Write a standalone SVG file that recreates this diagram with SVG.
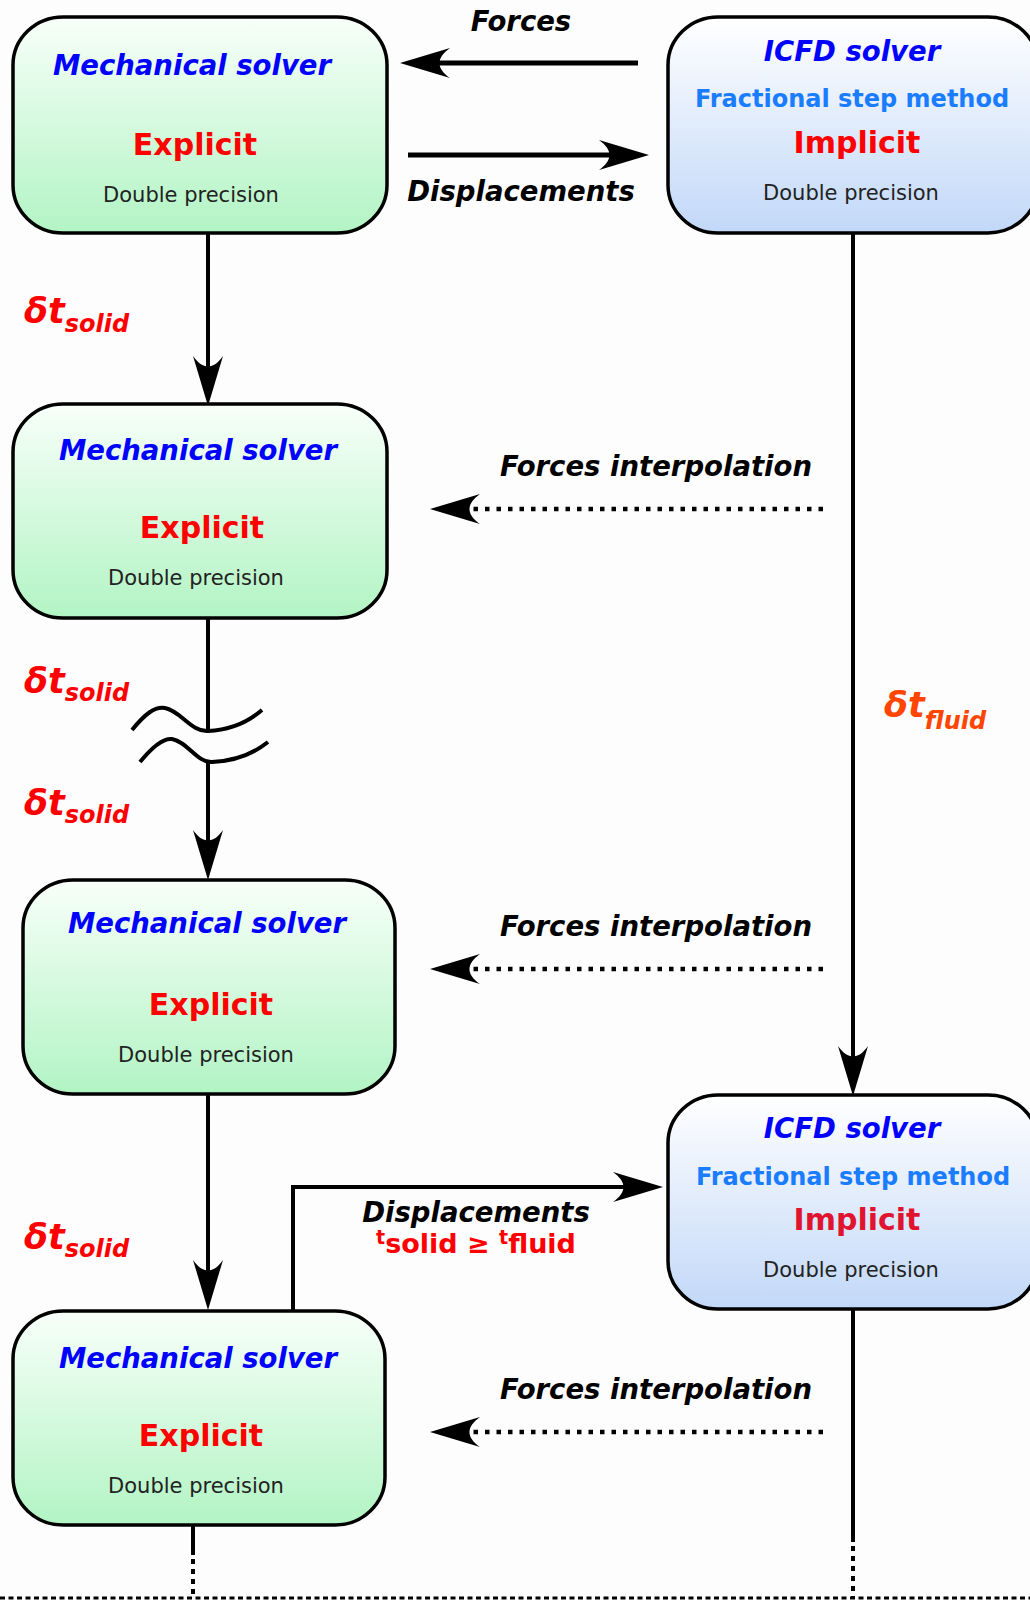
<svg xmlns="http://www.w3.org/2000/svg" width="1030" height="1600" viewBox="0 0 1030 1600">
<defs>
<linearGradient id="gGreen" x1="0" y1="0" x2="0" y2="1">
<stop offset="0" stop-color="#f8fff9"/>
<stop offset="1" stop-color="#b2f4c4"/>
</linearGradient>
<linearGradient id="gBlue" x1="0" y1="0" x2="0" y2="1">
<stop offset="0" stop-color="#ffffff"/>
<stop offset="1" stop-color="#c2d8f8"/>
</linearGradient>
<marker id="ah" markerUnits="userSpaceOnUse" markerWidth="80" markerHeight="40" refX="0" refY="0" orient="auto" overflow="visible">
<path d="M20,0 L-30,-15 C-16,-5 -16,5 -30,15 Z" fill="#000"/>
</marker>
</defs>
<style>
.box{stroke:#000;stroke-width:3.5}
.mech{fill:url(#gGreen)}
.icfd{fill:url(#gBlue)}
.t1{font-family:"DejaVu Sans",sans-serif;font-weight:bold;font-style:italic;font-size:27.5px;text-anchor:middle}
.blue{fill:#0000ff}
.lblue{font-family:"DejaVu Sans",sans-serif;font-weight:bold;font-size:24px;fill:#1a7cff;text-anchor:middle}
.big{font-family:"DejaVu Sans",sans-serif;font-weight:bold;font-size:30px;text-anchor:middle}
.dp{font-family:"DejaVu Sans",sans-serif;font-size:21px;fill:#222;text-anchor:middle}
.lbl{font-family:"DejaVu Sans",sans-serif;font-weight:bold;font-style:italic;font-size:27.5px;fill:#000;text-anchor:middle}
.dt{font-family:"DejaVu Sans",sans-serif;font-weight:bold;font-style:italic;font-size:35px;fill:#ff0000}
.sub{font-size:24px}
.ln{stroke:#000;stroke-width:4;fill:none}
.thick{stroke-width:5}
.dot{stroke:#000;stroke-width:4.5;fill:none;stroke-dasharray:4.5,7}
.fdot{stroke:#000;stroke-width:4;fill:none;stroke-dasharray:5,5}
.hdot{stroke:#000;stroke-width:3;fill:none;stroke-dasharray:5,3.5}
</style>
<rect x="0" y="0" width="1030" height="1600" fill="#fdfdfd"/>

<g id="connectors">
<line class="ln thick" x1="638" y1="63" x2="420" y2="63" marker-end="url(#ah)"/>
<line class="ln thick" x1="408" y1="155" x2="629" y2="155" marker-end="url(#ah)"/>
<line class="ln" x1="208" y1="233" x2="208" y2="386" marker-end="url(#ah)"/>
<line class="ln" x1="208" y1="618" x2="208" y2="731"/>
<path class="ln" d="M132,730 C145,714 155,706 165,708 C181,711 191,732 208,731 C230,730 248,722 262,710"/>
<path class="ln" d="M140,762 C153,746 163,738 172,739 C188,742 197,763 212,762 C234,761 253,754 268,742"/>
<line class="ln" x1="208" y1="762" x2="208" y2="860" marker-end="url(#ah)"/>
<line class="ln" x1="208" y1="1094" x2="208" y2="1290" marker-end="url(#ah)"/>
<polyline class="ln" points="293,1311 293,1187 643,1187" marker-end="url(#ah)"/>
<line class="ln" x1="853" y1="233" x2="853" y2="1076" marker-end="url(#ah)"/>
<line class="ln" x1="853" y1="1309" x2="853" y2="1542"/>
<line class="fdot" x1="853" y1="1546" x2="853" y2="1597"/>
<line class="ln" x1="193" y1="1525" x2="193" y2="1555"/>
<line class="fdot" x1="193" y1="1559" x2="193" y2="1597"/>
<line class="hdot" x1="0" y1="1598" x2="1030" y2="1598"/>
<line class="dot" x1="823" y1="509" x2="450" y2="509" marker-end="url(#ah)"/>
<line class="dot" x1="823" y1="969" x2="450" y2="969" marker-end="url(#ah)"/>
<line class="dot" x1="823" y1="1432" x2="450" y2="1432" marker-end="url(#ah)"/>
</g>

<g id="labels">
<text class="lbl" x="521" y="31">Forces</text>
<text class="lbl" x="521" y="201">Displacements</text>
<text class="lbl" x="656" y="476">Forces interpolation</text>
<text class="lbl" x="656" y="936">Forces interpolation</text>
<text class="lbl" x="656" y="1399">Forces interpolation</text>
<text class="lbl" x="476" y="1222">Displacements</text>
<text x="476" y="1253" font-family="DejaVu Sans, sans-serif" font-weight="bold" font-size="27px" fill="#ff0000" text-anchor="middle"><tspan font-size="19px" dy="-9">t</tspan><tspan dy="9">solid ≥ </tspan><tspan font-size="19px" dy="-9">t</tspan><tspan dy="9">fluid</tspan></text>
<text class="dt" x="24" y="323">δt<tspan class="sub" dy="9">solid</tspan></text>
<text class="dt" x="24" y="693">δt<tspan class="sub" dy="8">solid</tspan></text>
<text class="dt" x="24" y="815">δt<tspan class="sub" dy="8">solid</tspan></text>
<text class="dt" x="24" y="1249">δt<tspan class="sub" dy="8">solid</tspan></text>
<text class="dt" x="884" y="717" style="fill:#ff4500">δt<tspan class="sub" dy="12">fluid</tspan></text>
</g>

<g id="mech1">
<rect class="box mech" x="13" y="17" width="374" height="216" rx="50" ry="48"/>
<text class="t1 blue" x="192" y="75">Mechanical solver</text>
<text class="big" x="195" y="155" fill="#ff0000">Explicit</text>
<text class="dp" x="191" y="202">Double precision</text>
</g>
<g id="mech2">
<rect class="box mech" x="13" y="404" width="374" height="214" rx="50" ry="48"/>
<text class="t1 blue" x="198" y="460">Mechanical solver</text>
<text class="big" x="202" y="538" fill="#ff0000">Explicit</text>
<text class="dp" x="196" y="585">Double precision</text>
</g>
<g id="mech3">
<rect class="box mech" x="23" y="880" width="372" height="214" rx="50" ry="48"/>
<text class="t1 blue" x="207" y="933">Mechanical solver</text>
<text class="big" x="211" y="1015" fill="#ff0000">Explicit</text>
<text class="dp" x="206" y="1062">Double precision</text>
</g>
<g id="mech4">
<rect class="box mech" x="13" y="1311" width="372" height="214" rx="50" ry="48"/>
<text class="t1 blue" x="198" y="1368">Mechanical solver</text>
<text class="big" x="201" y="1446" fill="#ff0000">Explicit</text>
<text class="dp" x="196" y="1493">Double precision</text>
</g>
<g id="icfd1">
<rect class="box icfd" x="668" y="17" width="370" height="216" rx="50" ry="48"/>
<text class="t1 blue" x="852" y="61">ICFD solver</text>
<text class="lblue" x="852" y="107">Fractional step method</text>
<text class="big" x="857" y="153" fill="#ff0000">Implicit</text>
<text class="dp" x="851" y="200">Double precision</text>
</g>
<g id="icfd2">
<rect class="box icfd" x="668" y="1095" width="370" height="214" rx="50" ry="48"/>
<text class="t1 blue" x="852" y="1138">ICFD solver</text>
<text class="lblue" x="853" y="1185">Fractional step method</text>
<text class="big" x="857" y="1230" fill="#e0142f">Implicit</text>
<text class="dp" x="851" y="1277">Double precision</text>
</g>
</svg>
